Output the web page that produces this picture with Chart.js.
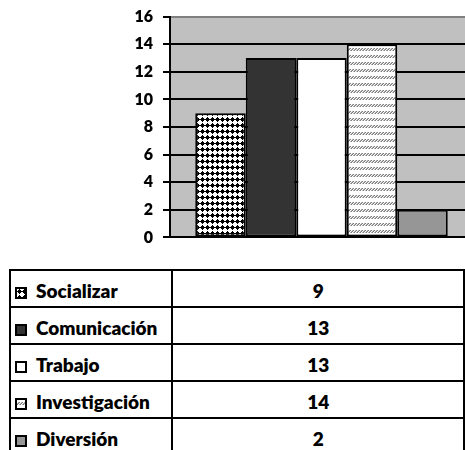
<!DOCTYPE html>
<html>
<head>
<meta charset="utf-8">
<script src="https://cdn.jsdelivr.net/npm/chart.js@4.4.1/dist/chart.umd.min.js"></script>
<style>
html,body{margin:0;padding:0;background:#fff;width:465px;height:450px;overflow:hidden;}
#wrap{position:absolute;left:0;top:-3px;width:480px;height:260px;}
#tbl{position:absolute;left:9px;top:269px;border-collapse:collapse;font-family:Lato,"Liberation Sans",sans-serif;font-weight:800;font-size:19px;line-height:22px;color:#000;}
#tbl td{border:2px solid #000;padding:4px 0 0 0;height:31px;vertical-align:middle;}
#tbl td.lab{width:157px;padding-left:4px;white-space:nowrap;}
#tbl td.val{width:301px;text-align:center;}
.key{display:inline-block;box-sizing:border-box;width:12px;height:12px;border:2px solid #000;margin-right:9px;vertical-align:-1px;background-repeat:repeat;}
</style>
</head>
<body>
<div id="wrap"><canvas id="c" width="480" height="260"></canvas></div>
<table id="tbl"></table>
<script>
const categories = ['Socializar','Comunicación','Trabajo','Investigación','Diversión'];
const values = [9, 13, 13, 14, 2];
const yTicks = [0, 2, 4, 6, 8, 10, 12, 14, 16];

function makeTile(w, h, draw){
  const c = document.createElement('canvas');
  c.width = w; c.height = h;
  const x = c.getContext('2d');
  draw(x, w, h);
  return c;
}
const dotTile = makeTile(5, 6, (x) => {
  x.fillStyle = '#fff'; x.fillRect(0,0,5,6);
  x.fillStyle = '#000';
  x.fillRect(1,1,3,3); x.fillRect(2,0,1,5); x.fillRect(0,2,5,1);
});
const hatchTile = makeTile(3, 7, (x) => {
  x.fillStyle = '#fff'; x.fillRect(0,0,3,7);
  x.fillStyle = '#7c7c7c';
  x.fillRect(0,4,1,1); x.fillRect(1,3,1,1); x.fillRect(2,2,1,1);
  x.fillStyle = '#b4b4b4';
  x.fillRect(0,3,1,1); x.fillRect(1,2,1,1); x.fillRect(2,4,1,1);
});
const cctx = document.getElementById('c').getContext('2d');
const fills = [
  cctx.createPattern(dotTile, 'repeat'),
  '#333333',
  '#ffffff',
  cctx.createPattern(hatchTile, 'repeat'),
  '#969696'
];
const keyBg = [
  'url(' + dotTile.toDataURL() + ')',
  '#333333',
  '#ffffff',
  'url(' + hatchTile.toDataURL() + ')',
  '#969696'
];

const bgPlugin = {
  id: 'plotBg',
  beforeDraw(chart){
    const a = chart.chartArea, g = chart.ctx;
    g.save();
    g.fillStyle = '#c0c0c0';
    g.fillRect(a.left, a.top, a.right - a.left, a.bottom - a.top);
    g.restore();
  }
};

new Chart(cctx, {
  type: 'bar',
  data: {
    labels: [''],
    datasets: categories.map((name, i) => ({
      label: name,
      data: [values[i]],
      backgroundColor: fills[i],
      borderColor: '#000',
      borderWidth: 2,
      borderSkipped: false
    }))
  },
  options: {
    responsive: false,
    animation: false,
    events: [],
    categoryPercentage: 5/6,
    barPercentage: 1,
    layout: { padding: { top: 17, right: 7, bottom: 13, left: 0 } },
    plugins: { legend: { display: false }, tooltip: { enabled: false } },
    scales: {
      x: { display: false },
      y: {
        min: 0, max: 16,
        afterBuildTicks(scale){ scale.ticks = yTicks.map(v => ({ value: v })); },
        afterFit(scale){ scale.width = 170; },
        ticks: {
          padding: 10,
          color: '#000',
          font: { family: 'Lato', weight: '800', size: 16 }
        },
        grid: {
          color: (ctx) => ctx.tick && ctx.tick.value === 16 ? '#808080' : '#000',
          tickColor: '#000',
          lineWidth: 2,
          tickLength: 7,
          drawTicks: true
        },
        border: { display: true, color: '#000', width: 2 }
      }
    }
  },
  plugins: [bgPlugin]
});

const tbl = document.getElementById('tbl');
categories.forEach((name, i) => {
  const tr = document.createElement('tr');
  const td1 = document.createElement('td');
  td1.className = 'lab';
  const k = document.createElement('span');
  k.className = 'key';
  k.style.background = keyBg[i];
  td1.appendChild(k);
  td1.appendChild(document.createTextNode(name));
  const td2 = document.createElement('td');
  td2.className = 'val';
  td2.textContent = values[i];
  tr.appendChild(td1); tr.appendChild(td2);
  tbl.appendChild(tr);
});
</script>
</body>
</html>
